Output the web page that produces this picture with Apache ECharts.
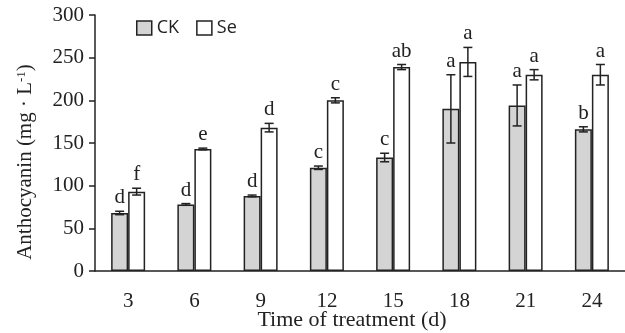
<!DOCTYPE html>
<html><head><meta charset="utf-8">
<script src="https://cdn.jsdelivr.net/npm/echarts@6/dist/echarts.min.js"></script>
<style>html,body{margin:0;padding:0;background:#fff}#c{width:625px;height:333px}</style>
</head><body><div id="c"></div>
<script>
const categories = ['3','6','9','12','15','18','21','24'];
const ckValues = [68, 78, 88, 121, 133, 190, 194, 166];
const ckErrors = [2, 1, 1, 2, 5, 40, 24, 3];
const ckLetters = ['d','d','d','c','c','a','a','b'];
const seValues = [93, 143, 168, 200, 239, 245, 230, 230];
const seErrors = [4, 1, 5, 3, 3, 17, 6, 12];
const seLetters = ['f','e','d','c','ab','a','a','a'];
const yTicks = [0, 50, 100, 150, 200, 250, 300];

const BAR_W = 17;
const serif = 'Liberation Serif';

function errSeries(values, errors, letters, sign) {
  return {
    type: 'custom',
    z: 5,
    data: values.map((v, i) => [i, v, errors[i], letters[i]]),
    renderItem: function (params, api) {
      const i = api.value(0), v = api.value(1), e = api.value(2);
      const p = api.coord([i, v]);
      const x = p[0] + sign * BAR_W / 2;
      const yt = api.coord([i, v + e])[1];
      const yb = api.coord([i, v - e])[1];
      const cw = 4.5;
      const st = { stroke: '#222', lineWidth: 1.5 };
      return {
        type: 'group',
        children: [
          { type: 'line', shape: { x1: x, y1: yt, x2: x, y2: yb }, style: st },
          { type: 'line', shape: { x1: x - cw, y1: yt, x2: x + cw, y2: yt }, style: st },
          { type: 'line', shape: { x1: x - cw, y1: yb, x2: x + cw, y2: yb }, style: st },
          { type: 'text', style: { text: letters[params.dataIndex], x: x, y: yt - 3,
              align: 'center', verticalAlign: 'bottom',
              font: '21px "' + serif + '"', fill: '#222' } }
        ]
      };
    }
  };
}

const chart = echarts.init(document.getElementById('c'));
chart.setOption({
  animation: false,
  grid: { left: 95, right: 0, top: 15, bottom: 62, outerBoundsMode: 'none', containLabel: false },
  legend: {
    left: 136, top: 19, padding: 0, itemGap: 17, itemWidth: 15, itemHeight: 14,
    textStyle: { fontFamily: 'Open Sans', fontSize: 18, color: '#222' },
    data: [
      { name: 'CK', icon: 'rect', itemStyle: { color: '#d4d4d4', borderColor: '#222', borderWidth: 1.5 } },
      { name: 'Se', icon: 'rect', itemStyle: { color: '#fff', borderColor: '#222', borderWidth: 1.5 } }
    ]
  },
  xAxis: {
    type: 'category', data: categories,
    axisLine: { lineStyle: { color: '#222', width: 1.5 } },
    axisTick: { show: false },
    axisLabel: { fontFamily: serif, fontSize: 21, color: '#222', margin: 20 },
    name: 'Time of treatment (d)', nameLocation: 'middle', nameGap: 38, nameMoveOverlap: false,
    nameTextStyle: { fontFamily: serif, fontSize: 22, color: '#222', padding: [0, 16, 0, 0] }
  },
  yAxis: {
    type: 'value', min: 0, max: 300, interval: 50,
    axisLine: { show: true, lineStyle: { color: '#222', width: 1.5 } },
    axisTick: { show: true, length: 6, lineStyle: { color: '#222', width: 1.5 } },
    splitLine: { show: false },
    axisLabel: { fontFamily: serif, fontSize: 21, color: '#222', margin: 11,
      formatter: v => yTicks.includes(v) ? String(v) : '' },
    name: 'Anthocyanin (mg · L{sup|-1})', nameLocation: 'middle', nameGap: 59, nameRotate: 90,
    nameMoveOverlap: false,
    nameTextStyle: { fontFamily: serif, fontSize: 21, color: '#222', padding: [0, 38, 0, 0],
      rich: { sup: { fontFamily: serif, fontSize: 13, color: '#222', verticalAlign: 'top', padding: [0, 0, 8, 0] } } }
  },
  series: [
    { name: 'CK', type: 'bar', data: ckValues, barWidth: BAR_W, barGap: '0%',
      itemStyle: { color: '#d4d4d4', borderColor: '#222', borderWidth: 1.5 } },
    { name: 'Se', type: 'bar', data: seValues, barWidth: BAR_W, barGap: '0%',
      itemStyle: { color: '#fff', borderColor: '#222', borderWidth: 1.5 } },
    errSeries(ckValues, ckErrors, ckLetters, -1),
    errSeries(seValues, seErrors, seLetters, 1)
  ]
});
</script></body></html>
